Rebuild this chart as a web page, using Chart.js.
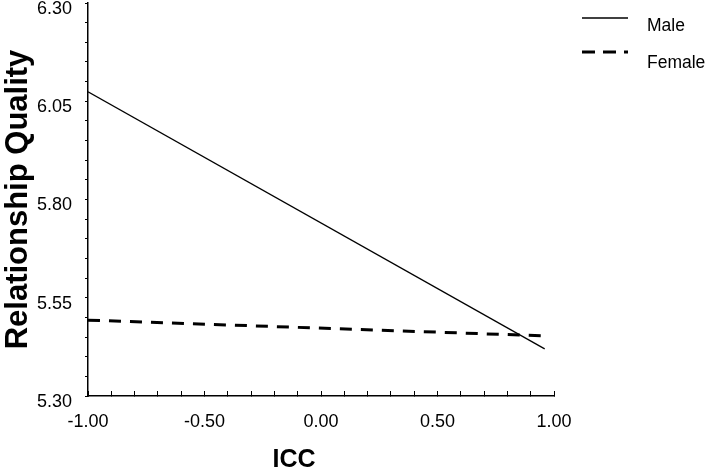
<!DOCTYPE html>
<html>
<head>
<meta charset="utf-8">
<script src="https://cdn.jsdelivr.net/npm/chart.js@4"></script>
<style>
html,body{margin:0;padding:0;background:#fff;}
#c{display:block;}
</style>
</head>
<body>
<canvas id="c" width="708" height="474"></canvas>
<script>
const seriesNames = ['Male', 'Female'];
const iccValues = [-1.0, 0.96];
const maleValues = [6.074, 5.420];
const femaleValues = [5.493, 5.453];
const yTickLabels = ['5.30', '5.55', '5.80', '6.05', '6.30'];
const xTickLabels = ['-1.00', '-0.50', '0.00', '0.50', '1.00'];
const xTitle = 'ICC';
const yTitle = 'Relationship Quality';

const FONT = "'Liberation Sans', Arial, sans-serif";

const toPoints = (xs, ys) => xs.map((x, i) => ({x: x, y: ys[i]}));

const legendPlugin = {
  id: 'customLegend',
  afterDraw(chart) {
    const ctx = chart.ctx;
    const rows = [18, 52];
    const textRows = [26, 63];
    chart.data.datasets.forEach((ds, i) => {
      ctx.save();
      ctx.strokeStyle = ds.borderColor;
      ctx.lineWidth = ds.borderWidth;
      ctx.setLineDash(ds.legendDash || []);
      ctx.beginPath();
      ctx.moveTo(582, rows[i]);
      ctx.lineTo(628, rows[i]);
      ctx.stroke();
      ctx.setLineDash([]);
      ctx.fillStyle = '#000';
      ctx.font = '17.5px ' + FONT;
      ctx.textBaseline = 'middle';
      ctx.textAlign = 'left';
      ctx.fillText(ds.label, 647, textRows[i]);
      ctx.restore();
    });
  }
};

const xTitlePlugin = {
  id: 'xTitle',
  afterDraw(chart) {
    const ctx = chart.ctx;
    ctx.save();
    ctx.fillStyle = '#000';
    ctx.font = 'bold 25px ' + FONT;
    ctx.textAlign = 'center';
    ctx.textBaseline = 'middle';
    ctx.fillText(xTitle, 294, 460);
    ctx.restore();
  }
};

const labelFor = (list, v) => {
  const hit = list.find(l => Math.abs(parseFloat(l) - v) < 1e-6);
  return hit === undefined ? '' : hit;
};

new Chart(document.getElementById('c'), {
  type: 'line',
  data: {
    datasets: [
      {
        label: seriesNames[0],
        data: toPoints(iccValues, maleValues),
        borderColor: '#000',
        borderWidth: 1.3,
        pointRadius: 0,
        fill: false,
        tension: 0,
        legendDash: []
      },
      {
        label: seriesNames[1],
        data: toPoints(iccValues, femaleValues),
        borderColor: '#000',
        borderWidth: 3,
        borderDash: [12, 9],
        pointRadius: 0,
        fill: false,
        tension: 0,
        legendDash: [13, 8]
      }
    ]
  },
  options: {
    responsive: false,
    animation: false,
    layout: { padding: { top: 3, right: 154, left: 0, bottom: 0 } },
    plugins: {
      legend: { display: false },
      tooltip: { enabled: false }
    },
    scales: {
      x: {
        type: 'linear',
        min: -1,
        max: 1,
        border: { display: true, color: '#000', width: 1.5 },
        grid: { drawOnChartArea: false, drawTicks: true, tickLength: -5, color: '#000', lineWidth: 1 },
        ticks: {
          stepSize: 0.1,
          autoSkip: false,
          maxRotation: 0,
          padding: 20,
          color: '#000',
          font: { family: FONT, size: 18 },
          callback: (v) => labelFor(xTickLabels, v)
        },
        afterFit: (s) => { s.height = 78; s.paddingLeft = 0; s.paddingRight = 0; }
      },
      y: {
        type: 'linear',
        min: 5.3,
        max: 6.3,
        border: { display: true, color: '#000', width: 1.5 },
        grid: { drawOnChartArea: false, drawTicks: true, tickLength: 3, color: '#000', lineWidth: 1 },
        title: {
          display: true,
          text: yTitle,
          color: '#000',
          font: { family: FONT, size: 31, weight: 'bold' },
          padding: { top: 0, bottom: 0 }
        },
        ticks: {
          stepSize: 0.05,
          autoSkip: false,
          padding: 13,
          labelOffset: 6,
          color: '#000',
          font: { family: FONT, size: 18 },
          callback: (v) => labelFor(yTickLabels, v)
        },
        afterFit: (s) => { s.width = 88; s.paddingTop = 0; s.paddingBottom = 0; }
      }
    }
  },
  plugins: [legendPlugin, xTitlePlugin]
});
</script>
</body>
</html>
